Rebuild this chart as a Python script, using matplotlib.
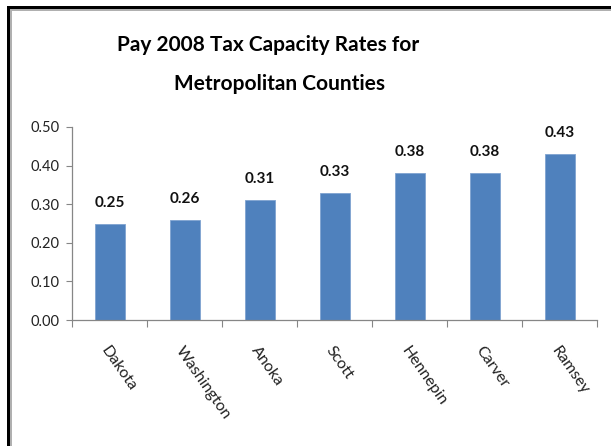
import matplotlib
matplotlib.use("Agg")
import matplotlib.pyplot as plt
from matplotlib.patches import Rectangle

counties = ["Dakota", "Washington", "Anoka", "Scott", "Hennepin", "Carver", "Ramsey"]
rates = [0.25, 0.26, 0.31, 0.33, 0.38, 0.38, 0.43]
y_ticks = [0.0, 0.1, 0.2, 0.3, 0.4, 0.5]

W, H = 611, 446
fig = plt.figure(figsize=(W / 100, H / 100), dpi=100)
fig.patch.set_facecolor("white")

font = "Lato"
bar_color = "#4F81BD"
axis_gray = "#868686"

ax = fig.add_axes([72 / W, (H - 320) / H, 525 / W, (320 - 127) / H])
x = list(range(len(counties)))
ax.bar(x, rates, width=0.4, color=bar_color, edgecolor="#7FA3D0", linewidth=0.6, zorder=2)
ax.set_xlim(-0.5, len(counties) - 0.5)
ax.set_ylim(0, 0.5)

ax.set_yticks(y_ticks)
ax.set_yticklabels([f"{v:.2f}" for v in y_ticks], fontfamily=font, fontsize=10.5, color="#222222")
ax.tick_params(axis="y", direction="out", length=4, color=axis_gray, pad=5)

# Tick marks at category boundaries, labels at category centers
ax.set_xticks([i - 0.5 for i in range(len(counties) + 1)])
ax.set_xticklabels([])
ax.tick_params(axis="x", which="major", direction="out", length=5, color=axis_gray)
ax.set_xticks(x, minor=True)
ax.set_xticklabels(counties, minor=True, rotation=-55, ha="left", va="top",
                   rotation_mode="anchor", fontfamily=font, fontsize=11.5, color="#222222")
ax.tick_params(axis="x", which="minor", length=0, pad=17)

for s in ["top", "right"]:
    ax.spines[s].set_visible(False)
for s in ["left", "bottom"]:
    ax.spines[s].set_color(axis_gray)
    ax.spines[s].set_linewidth(0.9)

for xi, v in zip(x, rates):
    ax.annotate(f"{v:.2f}", (xi, v), xytext=(0, 10), textcoords="offset points",
                ha="center", va="bottom", fontfamily=font, fontsize=11,
                fontweight="bold", color="#111111")

fig.text(268 / W, 1 - 45 / H, "Pay 2008 Tax Capacity Rates for", ha="center", va="center",
         fontfamily=font, fontsize=15, fontweight="bold", color="black")
fig.text(280 / W, 1 - 84 / H, "Metropolitan Counties", ha="center", va="center",
         fontfamily=font, fontsize=15, fontweight="bold", color="black")

# Chart frame edges along the top and left
fig.add_artist(Rectangle((7 / W, 0), 3 / W, 1 - 6 / H, transform=fig.transFigure, color="black", lw=0))
fig.add_artist(Rectangle((10 / W, 0), 1.5 / W, 1 - 9 / H, transform=fig.transFigure, color="#b0b0b0", lw=0))
fig.add_artist(Rectangle((7 / W, 1 - 9 / H), 1 - 7 / W, 3 / H, transform=fig.transFigure, color="black", lw=0))
fig.add_artist(Rectangle((10 / W, 1 - 10.5 / H), 1 - 10 / W, 1.5 / H, transform=fig.transFigure, color="#b0b0b0", lw=0))

fig.savefig("out.png", dpi=100)
